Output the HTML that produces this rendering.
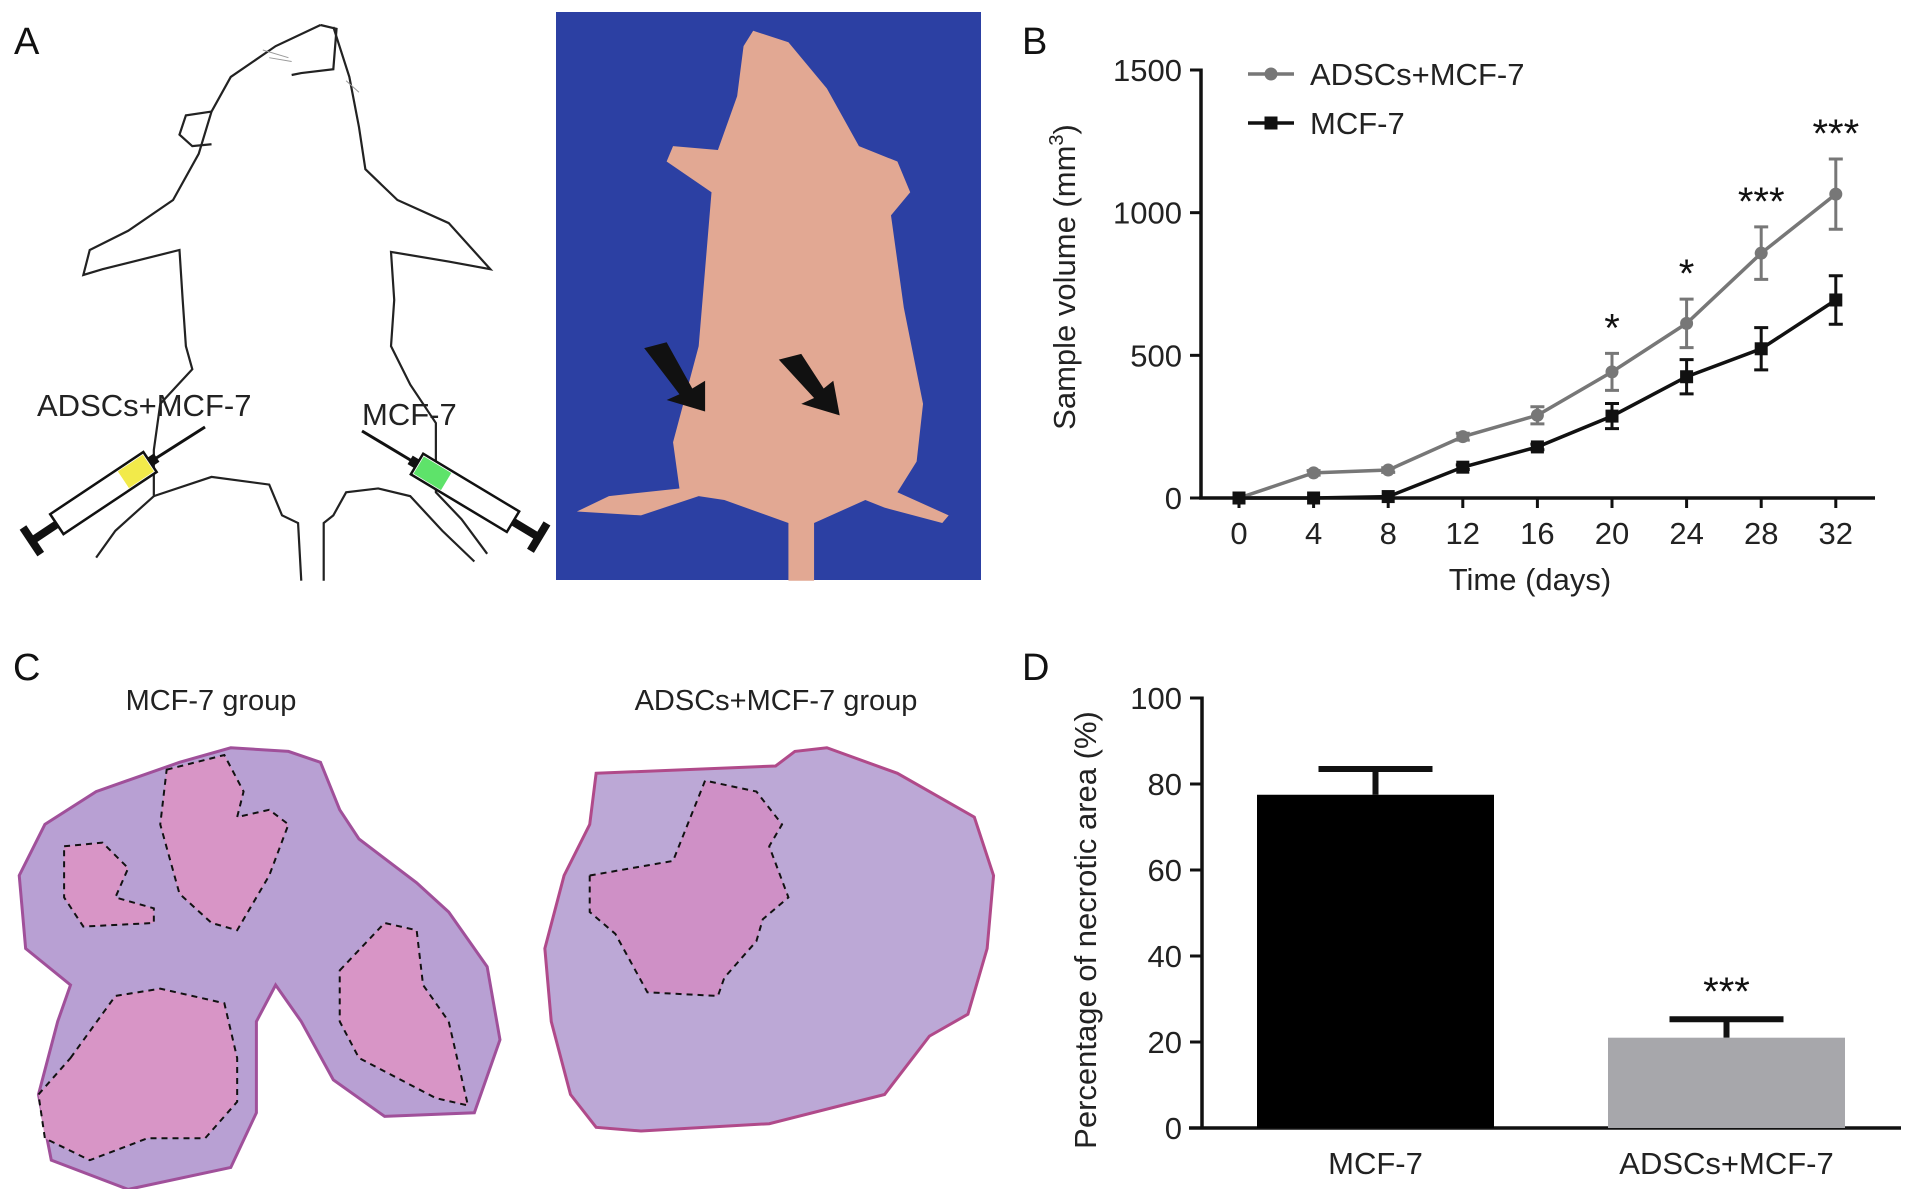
<!DOCTYPE html>
<html><head><meta charset="utf-8">
<style>
html,body{margin:0;padding:0;background:#fff;}
svg{display:block;font-family:"Liberation Sans",Arial,sans-serif;}
</style></head>
<body>
<svg id="fig" width="1913" height="1189" viewBox="0 0 1913 1189" xmlns="http://www.w3.org/2000/svg">
  <rect x="0" y="0" width="1913" height="1189" fill="#fff"/>

  <!-- Panel A -->
  <text x="14" y="54" font-size="38" fill="#111">A</text>
  <g transform="scale(0.641,0.3846)" fill="none" stroke="#222" stroke-width="2.2" vector-effect="non-scaling-stroke">
    <path vector-effect="non-scaling-stroke" d="M500,65 L430,120 L360,200 L330,290 L310,400 L270,520 L200,600 L140,650 L130,715 L160,700 L280,650 L285,780 L290,900 L300,960 L250,1050 L240,1170 L240,1290 L180,1380 L150,1450"/>
    <path vector-effect="non-scaling-stroke" d="M520,70 L545,200 L560,330 L570,440 L620,520 L700,580 L765,700 L700,680 L610,655 L615,780 L610,900 L640,1000 L680,1100 L680,1280 L720,1350 L760,1440"/>
    <path vector-effect="non-scaling-stroke" d="M500,65 L525,75 L520,180 L470,190 L455,195"/>
    <path vector-effect="non-scaling-stroke" d="M330,290 L290,300 L280,350 L300,380 L330,375"/>
    <path vector-effect="non-scaling-stroke" d="M240,1290 L330,1240 L420,1260 L440,1340 L465,1360 L470,1510 M505,1510 L505,1360 L520,1340 L540,1280 L590,1270 L640,1290 L690,1380 L740,1460"/>
    <path vector-effect="non-scaling-stroke" stroke="#999" stroke-width="1" d="M410,130 L450,150 M420,150 L455,160 M540,210 L560,240"/>
  </g>
  <g>
    <line x1="205" y1="427" x2="150" y2="462" stroke="#111" stroke-width="3"/>
    <g transform="translate(150,462) rotate(146.3)">
      <rect x="0" y="-12" width="112" height="24" fill="#fff" stroke="#111" stroke-width="2.5"/>
      <rect x="2" y="-10" width="30" height="20" fill="#f2ea4a"/>
      <rect x="112" y="-4" width="30" height="8" fill="#111"/>
      <rect x="138" y="-16" width="8" height="32" fill="#111"/>
      <rect x="-8" y="-5" width="8" height="10" fill="#111"/>
    </g>
  </g>
  <g>
    <line x1="362" y1="431" x2="417" y2="464" stroke="#111" stroke-width="3"/>
    <g transform="translate(417,464) rotate(31)">
      <rect x="0" y="-12" width="112" height="24" fill="#fff" stroke="#111" stroke-width="2.5"/>
      <rect x="2" y="-10" width="32" height="20" fill="#5ee36a"/>
      <rect x="112" y="-4" width="30" height="8" fill="#111"/>
      <rect x="138" y="-16" width="8" height="32" fill="#111"/>
      <rect x="-8" y="-5" width="8" height="10" fill="#111"/>
    </g>
  </g>
  <text x="37" y="416" font-size="31" fill="#222">ADSCs+MCF-7</text>
  <text x="362" y="425" font-size="31" fill="#222">MCF-7</text>

  <g>
    <rect x="556" y="12" width="425" height="568" fill="#2c40a3"/>
    <g transform="scale(0.641,0.3846)">
      <path fill="#e2a893" d="M1175,80 L1230,110 L1290,230 L1340,380 L1400,420 L1420,500 L1390,560 L1410,800 L1440,1050 L1430,1200 L1400,1280 L1480,1340 L1470,1360 L1380,1320 L1350,1300 L1270,1360 L1270,1510 L1230,1510 L1230,1360 L1130,1300 L1090,1290 L1000,1340 L900,1330 L950,1290 L1060,1270 L1050,1150 L1090,900 L1100,700 L1110,500 L1040,420 L1050,380 L1120,390 L1150,250 L1160,120 Z"/>
      <path fill="#111" d="M1005,905 L1040,890 L1080,1010 L1100,990 L1100,1070 L1040,1040 L1060,1025 Z"/>
      <path fill="#111" d="M1215,935 L1250,920 L1285,1010 L1300,990 L1310,1080 L1250,1050 L1270,1035 Z"/>
    </g>
  </g>

  <!-- Panel C -->
  <text x="13" y="680" font-size="38" fill="#111">C</text>
  <text x="211" y="710" font-size="29" fill="#222" text-anchor="middle">MCF-7 group</text>
  <text x="776" y="710" font-size="29" fill="#222" text-anchor="middle">ADSCs+MCF-7 group</text>
  <g transform="translate(0,620) scale(0.641,0.365)">
    <path fill="#b8a0d3" stroke="#a0509a" stroke-width="3" vector-effect="non-scaling-stroke" d="M70,560 L150,470 L280,390 L360,350 L450,360 L500,390 L530,520 L560,600 L650,720 L700,800 L760,950 L780,1150 L740,1350 L600,1360 L520,1260 L470,1100 L430,1000 L400,1100 L400,1350 L360,1500 L200,1560 L80,1480 L60,1300 L90,1100 L110,1000 L40,900 L30,700 Z"/>
    <g fill="#d895c6" stroke="#111" stroke-width="2" stroke-dasharray="6 5">
      <path vector-effect="non-scaling-stroke" d="M100,620 L160,610 L200,680 L180,760 L240,790 L240,830 L130,840 L100,760 Z"/>
      <path vector-effect="non-scaling-stroke" d="M260,410 L350,370 L380,470 L370,540 L420,520 L450,560 L420,700 L370,850 L330,830 L280,750 L250,560 Z"/>
      <path vector-effect="non-scaling-stroke" d="M530,960 L600,830 L650,850 L660,1000 L700,1100 L730,1330 L680,1310 L560,1200 L530,1100 Z"/>
      <path vector-effect="non-scaling-stroke" d="M110,1200 L180,1030 L250,1010 L350,1050 L370,1200 L370,1320 L320,1420 L230,1420 L140,1480 L70,1420 L60,1300 Z"/>
    </g>
  </g>
  <g transform="translate(0,620) scale(0.641,0.365)">
    <path fill="#bca8d6" stroke="#b04a8a" stroke-width="3" vector-effect="non-scaling-stroke" d="M930,420 L1210,400 L1240,360 L1290,350 L1400,420 L1520,540 L1550,700 L1540,900 L1510,1080 L1450,1140 L1380,1300 L1200,1380 L1000,1400 L930,1390 L890,1300 L860,1100 L850,900 L880,700 L920,560 Z"/>
    <path fill="#cf90c6" stroke="#111" stroke-width="2" stroke-dasharray="6 5" vector-effect="non-scaling-stroke" d="M920,700 L1050,660 L1100,440 L1180,470 L1220,560 L1200,620 L1230,760 L1190,820 L1180,880 L1130,980 L1120,1030 L1010,1020 L960,860 L920,800 Z"/>
  </g>

  <!-- Panel B -->
  <text x="1022" y="54" font-size="38" fill="#111">B</text>
  <g id="chartB"></g>

  <!-- Panel D -->
  <text x="1022" y="680" font-size="38" fill="#111">D</text>
  <g id="chartD"></g>
</svg>
<script>
const days = [0, 4, 8, 12, 16, 20, 24, 28, 32];
const adscValues = [0, 88, 98, 215, 290, 442, 612, 858, 1065];
const adscErrors = [0, 8, 8, 12, 30, 65, 85, 92, 123];
const mcfValues = [0, 0, 5, 108, 179, 287, 425, 523, 694];
const mcfErrors = [0, 0, 0, 8, 10, 44, 60, 74, 85];
const sigLabels = ["", "", "", "", "", "*", "*", "***", "***"];
const yTicksB = [0, 500, 1000, 1500];

const barCategories = ["MCF-7", "ADSCs+MCF-7"];
const barValues = [77.5, 21];
const barErrors = [6, 4.3];
const barSig = ["", "***"];
const yTicksD = [0, 20, 40, 60, 80, 100];

const NS = "http://www.w3.org/2000/svg";
function mk(parent, tag, attrs, text) {
  const e = document.createElementNS(NS, tag);
  for (const k in attrs) e.setAttribute(k, attrs[k]);
  if (text !== undefined) e.textContent = text;
  parent.appendChild(e);
  return e;
}

// ---- Chart B ----
const gB = document.getElementById("chartB");
const bx0 = 1239, bxStep = 74.6 / 4, by0 = 498, byScale = (498 - 70) / 1500;
const xB = d => bx0 + d * bxStep;
const yB = v => by0 - v * byScale;

let el;
el = mk(gB, "line", {x1: 1201, y1: yB(1500) - 1.5, x2: 1201, y2: by0 + 1.5, stroke: "#111", "stroke-width": 3.5});


el = mk(gB, "line", {x1: 1199, y1: by0, x2: 1875, y2: by0, stroke: "#111", "stroke-width": 3.5});


yTicksB.forEach(t => {
  mk(gB, "line", {x1: 1190, y1: yB(t), x2: 1201, y2: yB(t), stroke: "#111", "stroke-width": 3});
  el = mk(gB, "text", {x: 1182, y: yB(t) + 11, "font-size": 31, "text-anchor": "end", fill: "#222"}, String(t));
  
  
});
days.forEach(d => {
  mk(gB, "line", {x1: xB(d), y1: by0, x2: xB(d), y2: by0 + 10, stroke: "#111", "stroke-width": 3});
  el = mk(gB, "text", {x: xB(d), y: 544, "font-size": 31, "text-anchor": "middle", fill: "#222"}, String(d));
  
  
});
el = mk(gB, "text", {x: 1530, y: 590, "font-size": 31, "text-anchor": "middle", fill: "#222"}, "Time (days)");


el = mk(gB, "text", {x: 0, y: 0, "font-size": 31, "text-anchor": "middle", fill: "#222", transform: "translate(1075,277) rotate(-90)"});


el.textContent = "Sample volume (mm";
mk(el, "tspan", {"font-size": 20, dy: -12}, "3");
mk(el, "tspan", {dy: 12}, ")");

function drawSeries(vals, errs, color, marker, name) {
  const pts = days.map((d, i) => xB(d) + "," + yB(vals[i])).join(" ");
  el = mk(gB, "polyline", {points: pts, fill: "none", stroke: color, "stroke-width": 3.5});
  
  
  days.forEach((d, i) => {
    if (errs[i] > 0) {
      const x = xB(d), t = yB(vals[i] + errs[i]), b = yB(vals[i] - errs[i]);
      el = mk(gB, "path", {d: `M${x},${t} V${b} M${x-7},${t} H${x+7} M${x-7},${b} H${x+7}`, stroke: color, "stroke-width": 3, fill: "none"});
      
      
    }
    if (marker === "circle") {
      el = mk(gB, "circle", {cx: xB(d), cy: yB(vals[i]), r: 6.5, fill: color});
    } else {
      el = mk(gB, "rect", {x: xB(d) - 6.5, y: yB(vals[i]) - 6.5, width: 13, height: 13, fill: color});
    }
    
    
  });
}
drawSeries(adscValues, adscErrors, "#777", "circle", "adscs-mcf7");
drawSeries(mcfValues, mcfErrors, "#111", "square", "mcf7");
days.forEach((d, i) => {
  if (sigLabels[i]) {
    el = mk(gB, "text", {x: xB(d), y: yB(adscValues[i] + adscErrors[i]) - 12, "font-size": 40, "text-anchor": "middle", fill: "#111"}, sigLabels[i]);
    
    
  }
});
// legend
el = mk(gB, "g", {});


mk(el, "line", {x1: 1248, y1: 74, x2: 1294, y2: 74, stroke: "#777", "stroke-width": 3.5});
mk(el, "circle", {cx: 1271, cy: 74, r: 6.5, fill: "#777"});
mk(el, "text", {x: 1310, y: 85, "font-size": 31, fill: "#222"}, "ADSCs+MCF-7");
el = mk(gB, "g", {});


mk(el, "line", {x1: 1248, y1: 123, x2: 1294, y2: 123, stroke: "#111", "stroke-width": 3.5});
mk(el, "rect", {x: 1264.5, y: 116.5, width: 13, height: 13, fill: "#111"});
mk(el, "text", {x: 1310, y: 134, "font-size": 31, fill: "#222"}, "MCF-7");

// ---- Chart D ----
const gD = document.getElementById("chartD");
const dy0 = 1128, dyScale = (1128 - 698) / 100;
const yD = v => dy0 - v * dyScale;
const barCenters0 = 1375.5, barGap = 351, barW = 237;
const xD = i => barCenters0 + i * barGap;
const barColors = ["#000", "#a7a7ab"];

el = mk(gD, "line", {x1: 1202, y1: yD(100) - 1.5, x2: 1202, y2: dy0 + 1.5, stroke: "#111", "stroke-width": 3.5});


el = mk(gD, "line", {x1: 1189, y1: dy0, x2: 1901, y2: dy0, stroke: "#111", "stroke-width": 3.5});


yTicksD.forEach(t => {
  mk(gD, "line", {x1: 1190, y1: yD(t), x2: 1202, y2: yD(t), stroke: "#111", "stroke-width": 3});
  el = mk(gD, "text", {x: 1182, y: yD(t) + 11, "font-size": 31, "text-anchor": "end", fill: "#222"}, String(t));
  
  
});
el = mk(gD, "text", {x: 0, y: 0, "font-size": 31, "text-anchor": "middle", fill: "#222", transform: "translate(1096,930) rotate(-90)"}, "Percentage of necrotic area (%)");


barCategories.forEach((c, i) => {
  const cx = xD(i);
  const et = yD(barValues[i] + barErrors[i]);
  el = mk(gD, "path", {d: `M${cx},${yD(barValues[i])} V${et} M${cx-57},${et} H${cx+57}`, stroke: "#111", "stroke-width": 6, fill: "none"});
  
  
  el = mk(gD, "rect", {x: cx - barW / 2, y: yD(barValues[i]), width: barW, height: dy0 - yD(barValues[i]), fill: barColors[i]});
  
  
  el = mk(gD, "text", {x: cx, y: 1174, "font-size": 31, "text-anchor": "middle", fill: "#222"}, c);
  
  
  if (barSig[i]) {
    el = mk(gD, "text", {x: cx, y: et - 14, "font-size": 40, "text-anchor": "middle", fill: "#111"}, barSig[i]);
    
    
  }
});
</script>
</body></html>
